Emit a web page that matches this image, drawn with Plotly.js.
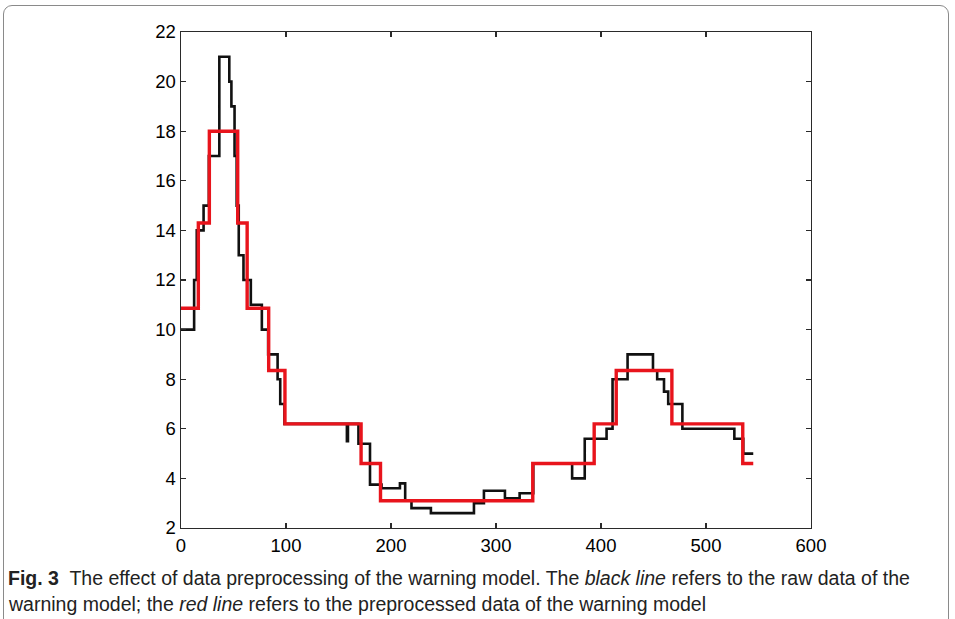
<!DOCTYPE html>
<html>
<head>
<meta charset="utf-8">
<script src="https://cdn.plot.ly/plotly-3.0.1.min.js"></script>
<style>
  html, body { margin:0; padding:0; background:#fff; }
  #frame { position:absolute; left:3px; top:5px; width:946px; height:640px; border:1.5px solid #8a8a8a; border-radius:9px; box-sizing:border-box; }
  #chart { position:absolute; left:0; top:0; width:955px; height:619px; }
</style>
</head>
<body>
<div id="frame"></div>
<div id="chart"></div>
<script>
// Raw data (black line): step start positions and values
const rawX = [0, 12.5, 15, 21.5, 26.5, 36.5, 46, 48, 51, 53, 55, 59.5, 66.5, 77, 83, 92, 94.5, 98.5,
              158, 159, 169, 180, 191, 208.5, 213.5, 219.5, 238, 279, 288.5, 308.5, 322.5, 335.5,
              372.5, 384.5, 405.3, 411, 425.3, 449.5, 453.5, 460, 464, 477.5, 527, 535.5, 545];
const rawY = [10, 12, 14, 15, 17, 21, 20, 19, 17, 15, 13, 12, 11, 10, 9, 8, 7, 6.2,
              5.5, 6.2, 5.4, 3.75, 3.6, 3.8, 3.1, 2.8, 2.6, 3.0, 3.5, 3.2, 3.4, 4.6,
              4.0, 5.6, 6.0, 8.0, 9.0, 8.35, 8.0, 7.5, 7.0, 6.0, 5.6, 5.0, 5.0];

// Preprocessed data (red line): step start positions and values
const procX = [0, 16.5, 27, 54, 63, 83.5, 99, 171.5, 190, 335, 393.5, 414.5, 467.5, 535, 545];
const procY = [10.86, 14.3, 18, 14.3, 10.86, 8.35, 6.2, 4.6, 3.1, 4.6, 6.2, 8.35, 6.2, 4.6, 4.6];

// Axis ticks
const xTicks = [0, 100, 200, 300, 400, 500, 600];
const yTicks = [2, 4, 6, 8, 10, 12, 14, 16, 18, 20, 22];

const traces = [
  { x: rawX, y: rawY, type: 'scatter', mode: 'lines', name: 'raw',
    line: { color: '#111111', width: 2.6, shape: 'hv' } },
  { x: procX, y: procY, type: 'scatter', mode: 'lines', name: 'preprocessed',
    line: { color: '#e8141c', width: 3.4, shape: 'hv' } }
];

const axisCommon = {
  showgrid: false, zeroline: false, showline: true, linecolor: '#2a2a2a', linewidth: 1.4,
  mirror: 'ticks', ticks: 'inside', ticklen: 5, tickwidth: 1.2, tickcolor: '#2a2a2a',
  tickfont: { family: 'Liberation Sans, Arial, sans-serif', size: 18.5, color: '#000' }
};

const capFont = { family: 'Liberation Sans Narrow, Arial Narrow, Liberation Sans, sans-serif', size: 19.5, color: '#222' };

const layout = {
  width: 955, height: 619,
  margin: { l: 181, r: 144, t: 32, b: 91 },
  paper_bgcolor: 'rgba(0,0,0,0)', plot_bgcolor: '#fff',
  showlegend: false,
  xaxis: Object.assign({}, axisCommon, { range: [0, 600], tickvals: xTicks, ticktext: xTicks.map(String) }),
  yaxis: Object.assign({}, axisCommon, { range: [2, 22], tickvals: yTicks, ticktext: yTicks.map(String) }),
  annotations: [
    { xref: 'paper', yref: 'paper', x: -181/630, y: 0, xshift: 6, yshift: -50,
      xanchor: 'left', yanchor: 'middle', showarrow: false, align: 'left',
      text: '<b>Fig. 3</b>  The effect of data preprocessing of the warning model. The <i>black line</i> refers to the raw data of the',
      font: capFont },
    { xref: 'paper', yref: 'paper', x: -181/630, y: 0, xshift: 6, yshift: -76,
      xanchor: 'left', yanchor: 'middle', showarrow: false, align: 'left',
      text: 'warning model; the <i>red line</i> refers to the preprocessed data of the warning model',
      font: capFont }
  ]
};

Plotly.newPlot('chart', traces, layout, { displayModeBar: false, staticPlot: true });
</script>
</body>
</html>
